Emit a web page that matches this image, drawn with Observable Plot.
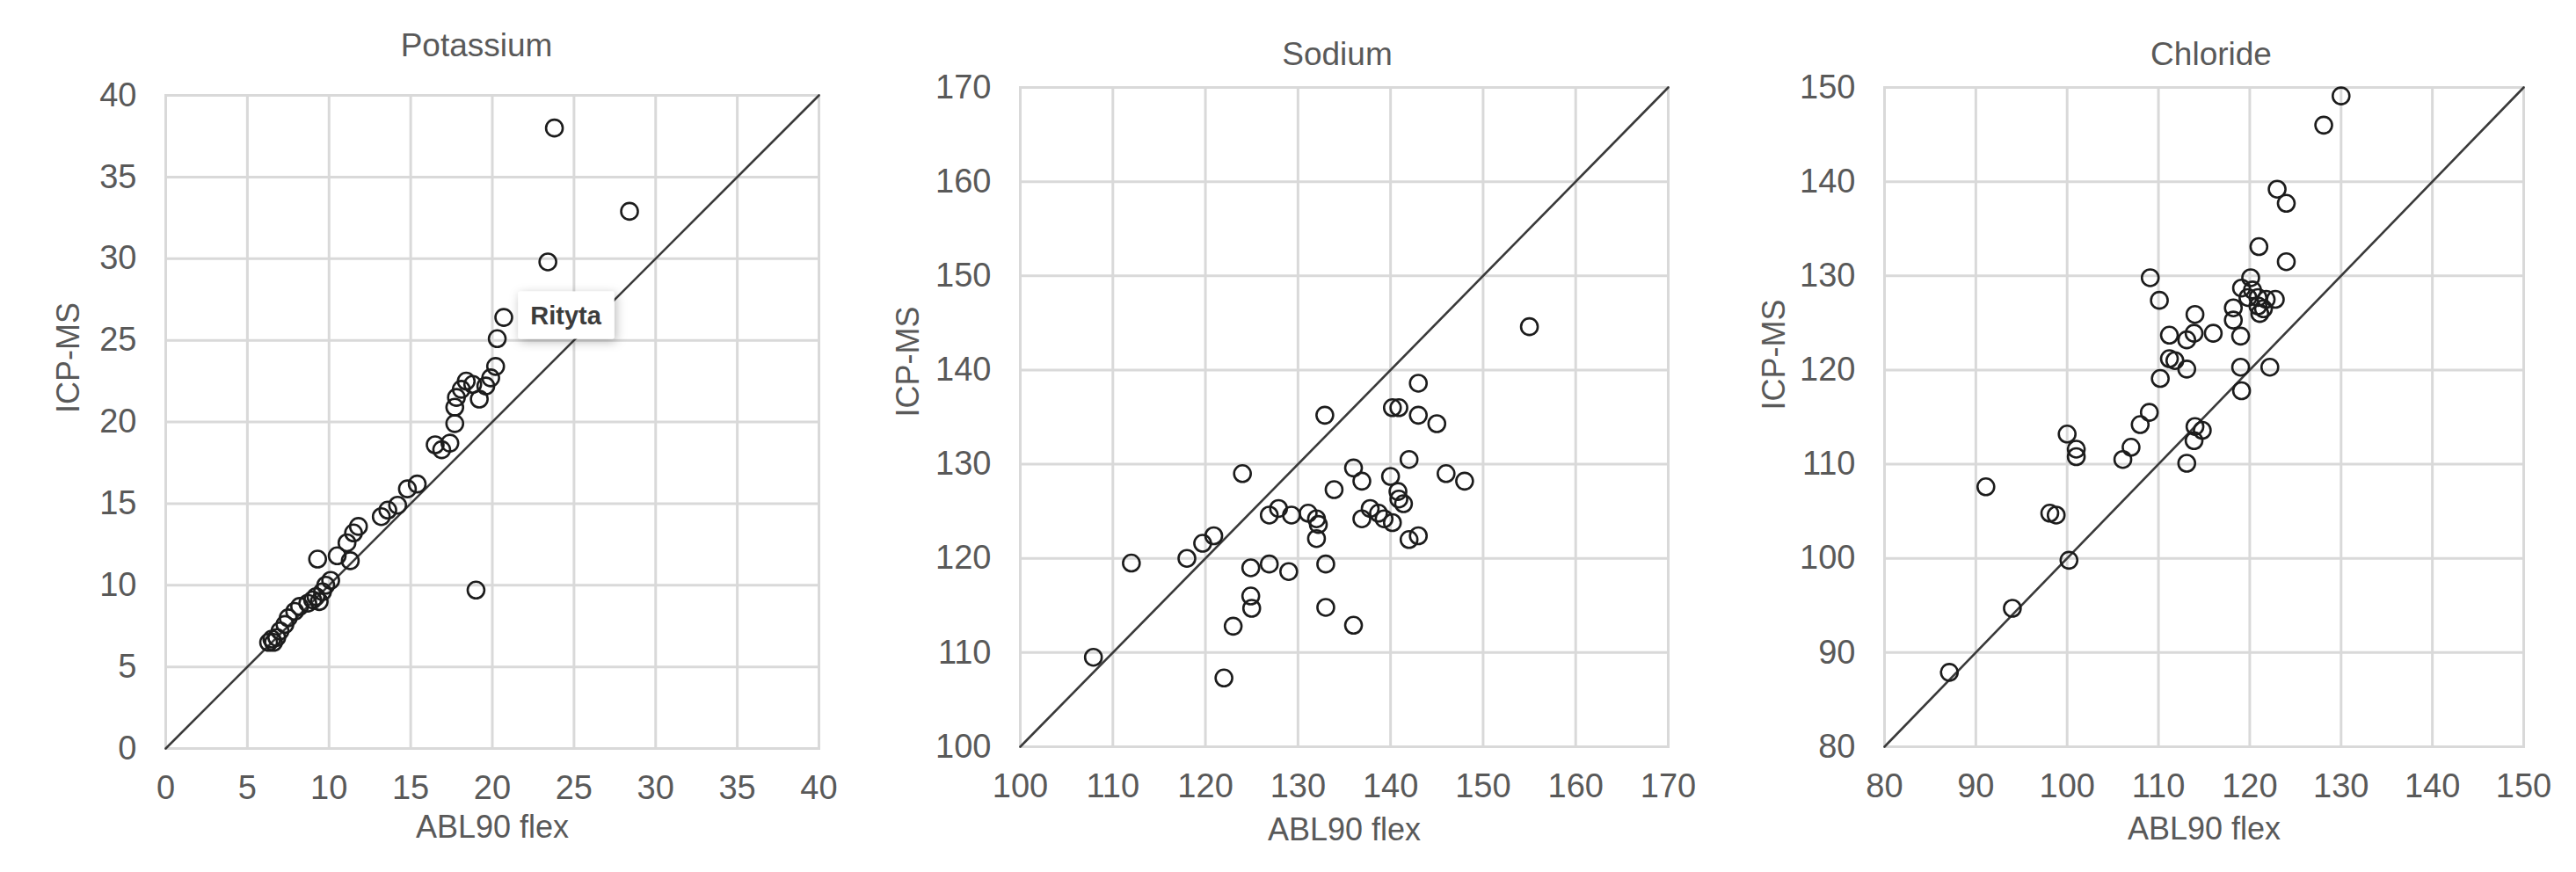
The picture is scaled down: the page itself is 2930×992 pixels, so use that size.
<!DOCTYPE html>
<html>
<head>
<meta charset="utf-8">
<script src="https://cdn.jsdelivr.net/npm/d3@7"></script>
<script src="https://cdn.jsdelivr.net/npm/@observablehq/plot@0.6"></script>
<style>
  html, body { margin: 0; padding: 0; background: #ffffff; }
  body { width: 2930px; height: 992px; position: relative; overflow: hidden; font-family: "Liberation Sans", Arial, sans-serif; }
  .panel { position: absolute; top: 0; }
</style>
</head>
<body>
<div id="p1" class="panel" style="left:0px"></div>
<div id="p2" class="panel" style="left:980px"></div>
<div id="p3" class="panel" style="left:1960px"></div>
<script>
// ---- Data ----
const titles = ["Potassium", "Sodium", "Chloride"];
const xLabel = "ABL90 flex";
const yLabel = "ICP-MS";

const potassiumTicks = [0, 5, 10, 15, 20, 25, 30, 35, 40];
const sodiumTicks = [100, 110, 120, 130, 140, 150, 160, 170];
const chlorideTicks = [80, 90, 100, 110, 120, 130, 140, 150];

const potassiumABL = [6.3, 6.5, 6.6, 6.8, 7.0, 7.3, 7.5, 7.9, 8.2, 8.7, 9.0, 9.2, 9.4, 9.6, 9.8, 10.1, 9.3, 10.5, 11.3, 11.1, 11.5, 11.8, 13.2, 13.6, 14.2, 14.8, 15.4, 16.5, 16.9, 17.4, 17.7, 17.7, 17.8, 18.1, 18.4, 18.8, 19.2, 19.6, 19.9, 20.2, 20.3, 20.7, 19.0, 23.4, 23.8, 28.4];
const potassiumICP = [6.5, 6.7, 6.5, 6.8, 7.2, 7.6, 8.0, 8.4, 8.7, 8.9, 9.1, 9.3, 9.0, 9.6, 10.0, 10.3, 11.6, 11.8, 11.5, 12.6, 13.2, 13.6, 14.2, 14.6, 14.9, 15.9, 16.2, 18.6, 18.3, 18.7, 19.9, 20.9, 21.5, 22.0, 22.5, 22.3, 21.4, 22.2, 22.7, 23.4, 25.1, 26.4, 9.7, 29.8, 38.0, 32.9];

const sodiumABL = [155, 143, 140.2, 140.9, 143, 145, 132.9, 124, 142, 136, 136.9, 146, 148, 133.9, 140, 140.8, 140.9, 141.4, 137.8, 138.7, 139.3, 136.9, 140.2, 142, 143, 126.9, 127.9, 129.3, 131.1, 132, 132.2, 132, 118, 119.7, 120.9, 112, 124.9, 126.9, 129, 133, 124.9, 125, 123, 133, 136, 107.9, 122];
const sodiumICP = [144.6, 138.6, 136, 136, 135.2, 134.3, 135.2, 129, 130.5, 129.6, 128.2, 129, 128.2, 127.3, 128.7, 127.1, 126.3, 125.8, 125.3, 124.8, 124.2, 124.2, 123.8, 122, 122.4, 124.6, 125.3, 124.6, 124.8, 124.2, 123.6, 122.1, 120, 121.6, 122.4, 119.5, 119, 119.4, 118.6, 119.4, 116, 114.7, 112.8, 114.8, 112.9, 109.5, 107.3];

const chlorideABL = [130, 128.1, 123, 124, 121, 124, 109.1, 110.1, 120.1, 119.1, 118.2, 118.2, 119.8, 120.9, 121.8, 122.8, 121.1, 120.9, 119, 119, 122.2, 119.1, 114, 116, 111.2, 113.1, 113.9, 111.2, 111.8, 113.1, 110.2, 109, 108, 107, 106.1, 100, 101, 101, 91.1, 98.1, 98.8, 100.2, 94, 87.1, 114, 114.8, 113.9, 113.1, 120.3, 121.5];
const chlorideICP = [149.1, 146, 139.2, 137.7, 133.1, 131.5, 129.8, 127.4, 129.8, 128.7, 126.6, 125.3, 127.7, 127.7, 127.5, 127.5, 126, 126.8, 123.6, 120.3, 120.3, 117.8, 125.9, 123.9, 123.7, 123.2, 123.9, 121.2, 121, 120.1, 119.1, 115.5, 114.2, 111.8, 110.5, 113.2, 111.6, 110.8, 107.6, 104.8, 104.6, 99.8, 94.7, 87.9, 114, 113.6, 112.5, 110.1, 128.5, 126.5];

// Excel hover tooltip visible in the reference (data-space anchor)
const potassiumTooltip = [{x: 24.5, y: 26.5, label: "Rityta"}];

// ---- Drawing ----
const GRID = "#d9d9d9";
const TEXT = "#595959";
const FONT = "'Liberation Sans', Arial, sans-serif";

function panel(el, cfg) {
  const {title, xs, ys, ticks, layout, tooltip} = cfg;
  const pts = xs.map((x, i) => ({x, y: ys[i]}));
  const ends = [ticks[0], ticks[ticks.length - 1]];
  const diag = ends.map(v => ({x: v, y: v}));
  const marks = [
    Plot.gridX(ticks, {stroke: GRID, strokeOpacity: 1, strokeWidth: 3}),
    Plot.gridY(ticks, {stroke: GRID, strokeOpacity: 1, strokeWidth: 3}),
    Plot.frame({stroke: GRID, strokeWidth: 3}),
    Plot.axisX(ticks, {tickSize: 0, tickPadding: layout.xPad, label: null, fill: TEXT, fontSize: 38}),
    Plot.axisY(ticks, {tickSize: 0, tickPadding: layout.yPad, label: null, fill: TEXT, fontSize: 38}),
    Plot.line(diag, {x: "x", y: "y", stroke: "#3a3a3a", strokeWidth: 2.6}),
    Plot.dot(pts, {x: "x", y: "y", r: 9.5, stroke: "#1c1c1c", strokeWidth: 2.6, fill: "none"}),
    Plot.text([title], {text: d => d, frameAnchor: "top", dy: layout.titleDy, dx: layout.titleDx, fontSize: 37, fill: TEXT, lineAnchor: "middle"}),
    Plot.text([xLabel], {text: d => d, frameAnchor: "bottom", dy: layout.xLabDy, dx: layout.xLabDx, fontSize: 36, fill: TEXT, lineAnchor: "middle"}),
    Plot.text([yLabel], {text: d => d, frameAnchor: "left", rotate: -90, dx: layout.yLabDx, dy: layout.yLabDy, fontSize: 36, fill: TEXT, lineAnchor: "middle"})
  ];
  if (tooltip) {
    marks.push(Plot.text(tooltip, {x: "x", y: "y", text: "label", fontSize: 29, fontWeight: 600, fill: "#3c3c3c", lineAnchor: "middle"}));
  }
  const svg = Plot.plot({
    width: layout.width,
    height: 992,
    marginLeft: layout.ml,
    marginRight: layout.mr,
    marginTop: layout.mt,
    marginBottom: layout.mb,
    x: {domain: ends, ticks: ticks},
    y: {domain: ends, ticks: ticks},
    style: {fontFamily: FONT, fontSize: "38px", color: TEXT, background: "#ffffff", overflow: "visible"},
    marks
  });
  el.appendChild(svg);

  if (tooltip) {
    // white tooltip box with a soft shadow behind the label text
    const ns = "http://www.w3.org/2000/svg";
    const defs = document.createElementNS(ns, "defs");
    defs.innerHTML = '<filter id="tipShadow" x="-30%" y="-50%" width="160%" height="200%"><feDropShadow dx="2" dy="3" stdDeviation="6" flood-color="#000" flood-opacity="0.28"/></filter>';
    svg.insertBefore(defs, svg.firstChild);
    svg.querySelectorAll("text").forEach(t => {
      if (t.textContent === tooltip[0].label) {
        const b = t.getBBox();
        const g = t.parentNode;
        const rect = document.createElementNS(ns, "rect");
        rect.setAttribute("x", b.x - 14);
        rect.setAttribute("y", b.y - 11);
        rect.setAttribute("width", b.width + 28);
        rect.setAttribute("height", b.height + 22);
        rect.setAttribute("rx", 3);
        rect.setAttribute("fill", "#ffffff");
        rect.setAttribute("filter", "url(#tipShadow)");
        const tr = t.getAttribute("transform");
        if (tr) rect.setAttribute("transform", tr);
        g.insertBefore(rect, t);
      }
    });
  }
}

panel(document.getElementById("p1"), {
  title: titles[0], xs: potassiumABL, ys: potassiumICP, ticks: potassiumTicks, tooltip: potassiumTooltip,
  layout: {width: 960, ml: 188, mr: 29, mt: 108, mb: 141, xPad: 31, yPad: 33,
           titleDy: -56, titleDx: -18, xLabDy: 90, xLabDx: 0, yLabDx: -110, yLabDy: -10}
});
panel(document.getElementById("p2"), {
  title: titles[1], xs: sodiumABL, ys: sodiumICP, ticks: sodiumTicks,
  layout: {width: 960, ml: 180, mr: 43, mt: 99, mb: 143, xPad: 31, yPad: 33,
           titleDy: -37, titleDx: -8, xLabDy: 95, xLabDx: 0, yLabDx: -127, yLabDy: 0}
});
panel(document.getElementById("p3"), {
  title: titles[2], xs: chlorideABL, ys: chlorideICP, ticks: chlorideTicks,
  layout: {width: 970, ml: 183, mr: 60, mt: 99, mb: 143, xPad: 31, yPad: 33,
           titleDy: -37, titleDx: 8, xLabDy: 94, xLabDx: 0, yLabDx: -125, yLabDy: -8}
});
</script>
</body>
</html>
